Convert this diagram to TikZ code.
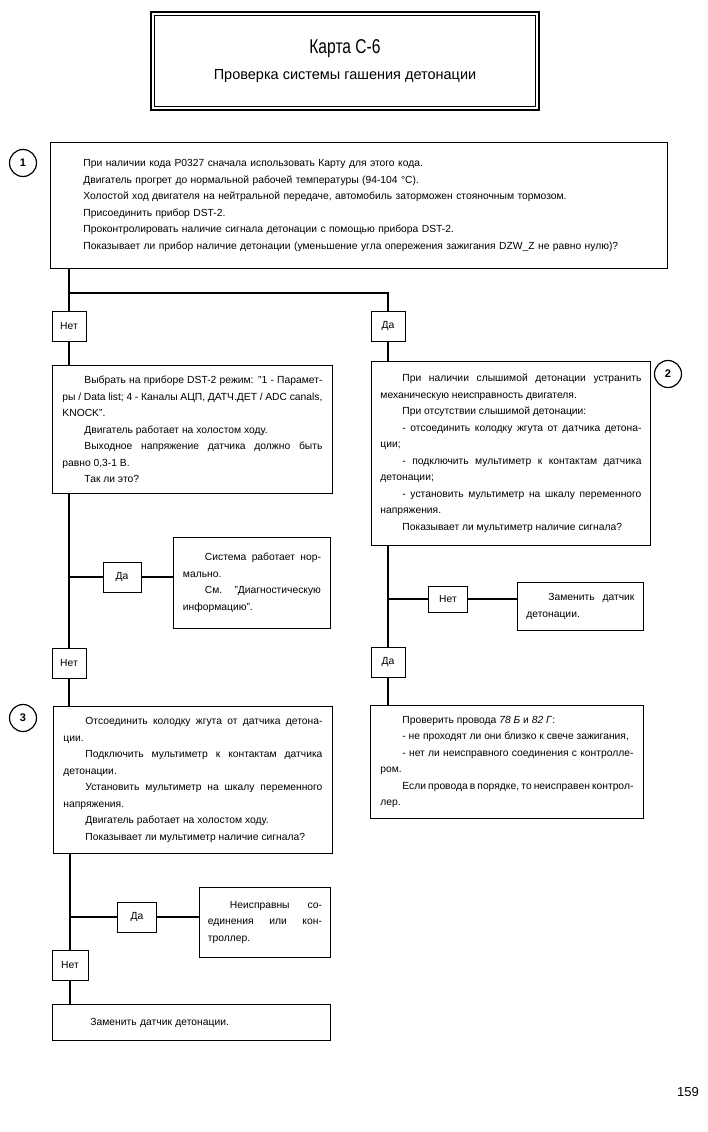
\documentclass[tikz,border=0pt]{standalone}
\usepackage{fontspec}
\setmainfont{Liberation Sans}
\newfontfamily\titlefont[FakeStretch=0.78]{Liberation Sans}
\usepackage{tikz}
\usetikzlibrary{positioning}

\newcommand{\bodyfont}{\fontsize{10.3}{16.5}\selectfont}
\newcommand{\indpar}{\hspace*{22pt}}

\tikzstyle{card} = [draw, line width=0.9pt, inner sep=0pt, anchor=north west, align=justify, font=\bodyfont]
\tikzstyle{answer} = [draw, line width=0.9pt, minimum width=34, minimum height=30, inner sep=0pt, font=\bodyfont]
\tikzstyle{wire} = [line width=2.6pt]
\tikzstyle{stepno} = [draw, circle, line width=1.2pt, minimum size=27, inner sep=0pt, font=\bfseries\fontsize{11}{13}\selectfont]

\begin{document}
\begin{tikzpicture}[x=1pt, y=-1pt]
                \useasboundingbox (0,0) rectangle (707,1132);

                % title
                \node[draw, line width=1.6pt, minimum width=388, minimum height=98, align=center] (title) at (345,61)
                    {{\titlefont\fontsize{20}{22}\selectfont Карта С-6}\\[11pt]{\fontsize{14.5}{17}\selectfont Проверка системы гашения детонации}};
                \draw[line width=0.7pt] ([shift={(4,4)}]title.north west) rectangle ([shift={(-4,-4)}]title.south east);

                % step 1
                \node[stepno] (n1) at (23,163) {1};
                \node[card, align=left, minimum width=617, minimum height=126, text width=551] (check) at (50,142) {%
                    При наличии кода P0327 сначала использовать Карту для этого кода.\\
                    Двигатель прогрет до нормальной рабочей температуры (94-104 °C).\\
                    Холостой ход двигателя на нейтральной передаче, автомобиль заторможен стояночным тормозом.\\
                    Присоединить прибор DST-2.\\
                    Проконтролировать наличие сигнала детонации с помощью прибора DST-2.\\
                    Показывает ли прибор наличие детонации (уменьшение угла опережения зажигания DZW\_Z не равно нулю)?};

                \node[answer] (net1) at (69,326) {Нет};
                \node[answer] (da1) at (388,326) {Да};
                \coordinate (split) at (69,293);
                \draw[wire] (check.south -| net1) -- (net1.north);
                \draw[wire] (split) -| (da1.north);

                % left branch
                \node[card, minimum width=280, minimum height=128, text width=260] (select) at (52,365) {%
                    \indpar Выбрать на приборе DST-2 режим: "1 - Парамет-\linebreak ры / Data list; 4 - Каналы АЦП, ДАТЧ.ДЕТ / ADC canals,\linebreak KNOCK".\\
                    \indpar Двигатель работает на холостом ходу.\\
                    \indpar Выходное напряжение датчика должно быть\linebreak равно 0,3-1 В.\\
                    \indpar Так ли это?};
                \draw[wire] (net1.south) -- (net1.south |- select.north);

                \node[answer, minimum width=38] (da2) at (122,577) {Да};
                \node[card, minimum width=157, minimum height=91, text width=138] (normal) at (173,537) {%
                    \indpar Система работает нор-\linebreak мально.\\
                    \indpar См. "Диагностическую\linebreak информацию".};
                \node[answer] (net2) at (69,663) {Нет};
                \draw[wire] (select.south -| net2) -- (net2.north);
                \draw[wire] (da2.west -| net2) -- (da2.west);
                \draw[wire] (da2.east) -- (da2.east -| normal.west);

                % right branch
                \node[stepno] (n2) at (668,374) {2};
                \node[card, minimum width=279, minimum height=184, text width=261] (listen) at (371,361) {%
                    \indpar При наличии слышимой детонации устранить\linebreak механическую неисправность двигателя.\\
                    \indpar При отсутствии слышимой детонации:\\
                    \indpar - отсоединить колодку жгута от датчика детона-\linebreak ции;\\
                    \indpar - подключить мультиметр к контактам датчика\linebreak детонации;\\
                    \indpar - установить мультиметр на шкалу переменного\linebreak напряжения.\\
                    \indpar Показывает ли мультиметр наличие сигнала?};
                \draw[wire] (da1.south) -- (da1.south |- listen.north);

                \node[answer, minimum width=39, minimum height=26] (net3) at (448,599) {Нет};
                \node[card, minimum width=126, minimum height=48, text width=108] (replace1) at (517,582) {%
                    \indpar Заменить датчик\linebreak детонации.};
                \node[answer] (da3) at (388,662) {Да};
                \draw[wire] (listen.south -| da3) -- (da3.north);
                \draw[wire] (net3.west -| da3) -- (net3.west);
                \draw[wire] (net3.east) -- (net3.east -| replace1.west);

                \node[card, minimum width=273, minimum height=113, text width=253] (wires) at (370,705) {%
                    \indpar Проверить провода \textit{78 Б} и \textit{82 Г}:\\
                    \indpar - не проходят ли они близко к свече зажигания,\\
                    \indpar - нет ли неисправного соединения с контролле-\linebreak ром.\\
                    \indpar Если провода в порядке, то неисправен контрол-\linebreak лер.};
                \draw[wire] (da3.south) -- (da3.south |- wires.north);

                % step 3
                \node[stepno] (n3) at (23,718) {3};
                \node[card, minimum width=279, minimum height=147, text width=259] (unplug) at (53,706) {%
                    \indpar Отсоединить колодку жгута от датчика детона-\linebreak ции.\\
                    \indpar Подключить мультиметр к контактам датчика\linebreak детонации.\\
                    \indpar Установить мультиметр на шкалу переменного\linebreak напряжения.\\
                    \indpar Двигатель работает на холостом ходу.\\
                    \indpar Показывает ли мультиметр наличие сигнала?};
                \draw[wire] (net2.south) -- (net2.south |- unplug.north);

                \node[answer, minimum width=39] (da4) at (137,917) {Да};
                \node[card, minimum width=131, minimum height=70, text width=114] (faulty) at (199,887) {%
                    \indpar Неисправны со-\linebreak единения или кон-\linebreak троллер.};
                \node[answer, minimum width=36] (net4) at (70,965) {Нет};
                \node[card, align=left, minimum width=278, minimum height=36, text width=240] (replace2) at (52,1004) {%
                    \hspace*{19pt}Заменить датчик детонации.};
                \draw[wire] (unplug.south -| net4) -- (net4.north);
                \draw[wire] (da4.west -| net4) -- (da4.west);
                \draw[wire] (da4.east) -- (da4.east -| faulty.west);
                \draw[wire] (net4.south) -- (net4.south |- replace2.north);

                \node[font=\fontsize{13}{15}\selectfont] (page) at (688,1092) {159};
            \end{tikzpicture}
\end{document}
